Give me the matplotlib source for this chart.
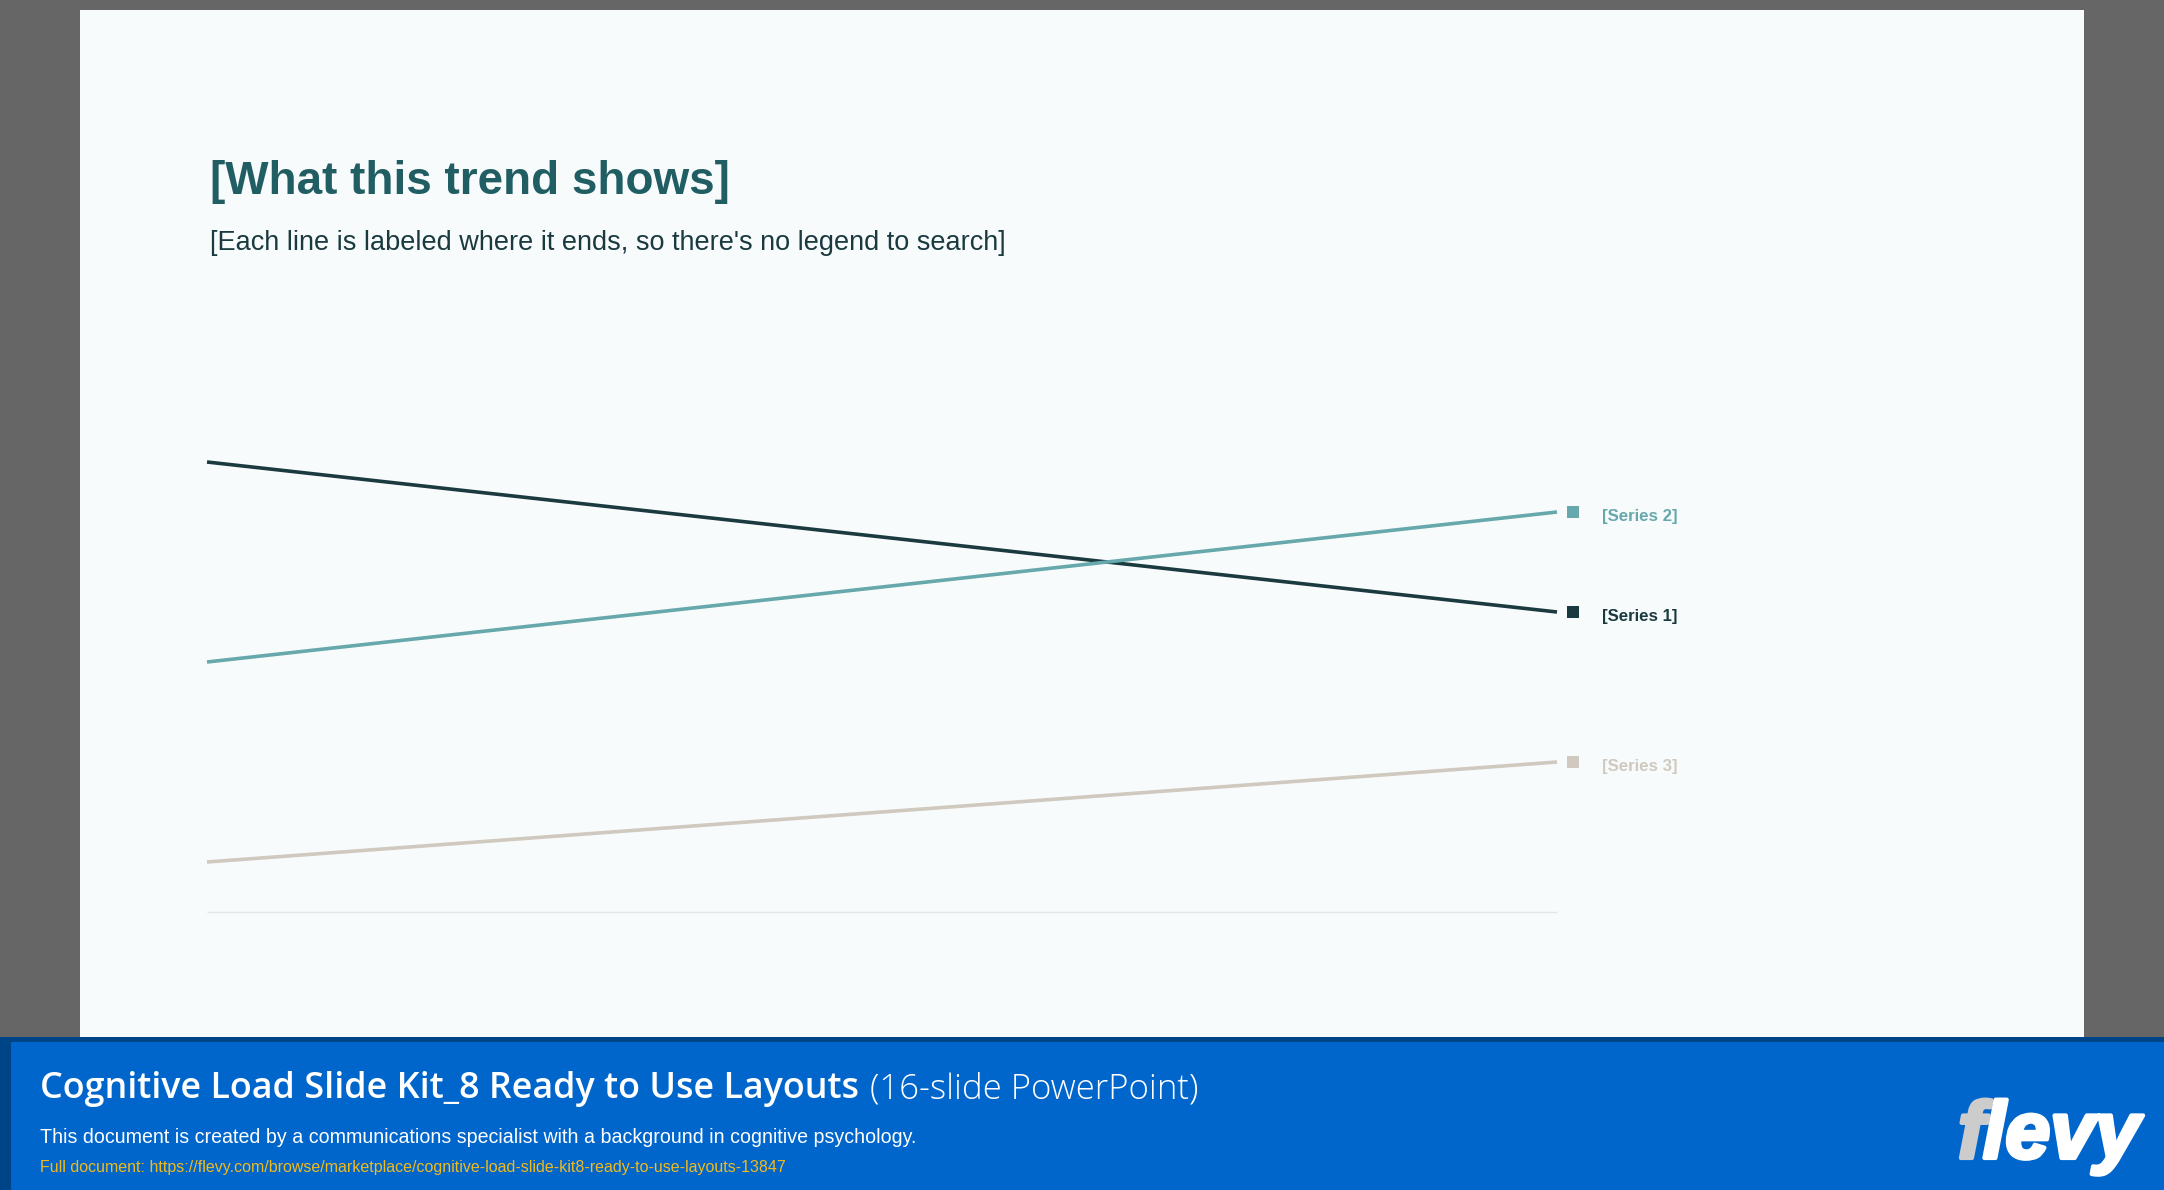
import matplotlib
matplotlib.use('Agg')
from matplotlib import pyplot as plt
from matplotlib.patches import Rectangle
from matplotlib.transforms import Affine2D
from matplotlib import patheffects

W, H = 2164, 1190

# chart values
periods = ['Start', 'End']
series_1 = [9, 6]
series_2 = [5, 8]
series_3 = [1, 3]
series_names = ['[Series 1]', '[Series 2]', '[Series 3]']

title = '[What this trend shows]'
subtitle = "[Each line is labeled where it ends, so there's no legend to search]"
banner_title = 'Cognitive Load Slide Kit_8 Ready to Use Layouts'
banner_pages = '(16-slide PowerPoint)'
banner_text = 'This document is created by a communications specialist with a background in cognitive psychology.'
banner_link = 'Full document: https://flevy.com/browse/marketplace/cognitive-load-slide-kit8-ready-to-use-layouts-13847'

colors = ['#1A3A3F', '#66A8AC', '#D0C9C0']


def fx(px):
    return px / W


def fy(px):
    # pixels are counted from the top of the picture
    return 1 - px / H


def add_box(fig, x0, y0, x1, y1, color):
    fig.add_artist(Rectangle((fx(x0), fy(y1)), (x1 - x0) / W, (y1 - y0) / H,
                             transform=fig.transFigure, facecolor=color, edgecolor='none', zorder=-1))


plt.rcParams['font.family'] = ['Liberation Sans', 'DejaVu Sans']

fig = plt.figure(figsize=(W / 100, H / 100), dpi=100, facecolor='#666666')

# slide and banner behind the chart
add_box(fig, 80, 10, 2084, 1037, '#F8FBFC')
add_box(fig, 0, 1037, W, H, '#004488')
add_box(fig, 11, 1042, W, H, '#0066CC')

ax = fig.add_axes([fx(207), fy(912), (1557 - 207) / W, (912 - 462) / H])
ax.patch.set_alpha(0)
ax.set_xlim(0, 1)
ax.set_ylim(0, 9)
ax.set_xticks([])
ax.set_yticks([])
for side in ['top', 'left', 'right']:
    ax.spines[side].set_visible(False)
ax.spines['bottom'].set_color('#E3E6E6')
ax.spines['bottom'].set_linewidth(1.0)
ax.spines['bottom'].set_capstyle('butt')

for values, name, color in zip([series_1, series_2, series_3], series_names, colors):
    ax.plot([0, 1], values, color=color, linewidth=2.6, solid_capstyle='butt', clip_on=False)
    # end marker and direct label
    ax.plot([1], [values[-1]], marker='s', markersize=8.64, markeredgewidth=0, color=color, clip_on=False,
            transform=ax.transData + Affine2D().translate(16, 0))
    ax.annotate(name, (1, values[-1]), xytext=(45 * 0.72, -9 * 0.72), textcoords='offset points',
                color=color, fontsize=12.1, fontweight='bold', va='baseline', ha='left',
                annotation_clip=False)

fig.text(fx(209.5), fy(193.5), title, fontsize=33, fontweight='bold', color='#215E63', va='baseline')
fig.text(fx(209.5), fy(250), subtitle, fontsize=19.5, color='#1A3A3F', va='baseline')

fig.text(fx(40), fy(1098), banner_title, fontsize=25.8, family='Open Sans', fontweight='semibold',
         color='white', va='baseline')
fig.text(fx(870), fy(1098), banner_pages, fontsize=25, family='Open Sans', fontweight='light',
         color='white', va='baseline')
fig.text(fx(40), fy(1143), banner_text, fontsize=14.1, color='white', va='baseline')
fig.text(fx(40), fy(1172), banner_link, fontsize=11.5, color='#F2B91C', va='baseline')

# logo, thickened a little because no heavy italic is installed
stroke = [patheffects.withStroke(linewidth=3, foreground='#CCCCCC')]
fig.text(fx(1958), fy(1158), 'f', fontsize=58, fontweight='bold', style='italic',
         color='#CCCCCC', va='baseline', path_effects=stroke)
stroke = [patheffects.withStroke(linewidth=3, foreground='white')]
fig.text(fx(1983), fy(1158), 'levy', fontsize=58, fontweight='bold', style='italic',
         color='white', va='baseline', path_effects=stroke)

fig.savefig('out.png', dpi=100, facecolor=fig.get_facecolor())
